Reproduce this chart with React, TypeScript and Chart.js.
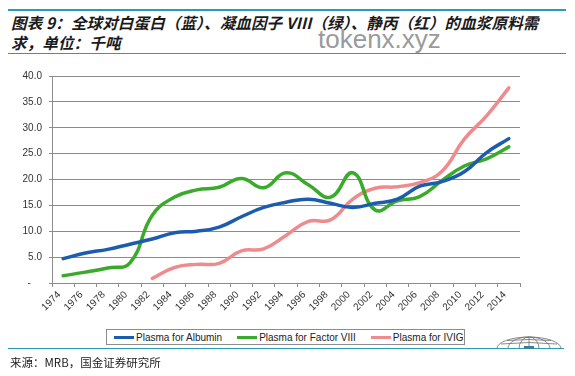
import React, { useEffect, useRef } from "react";
import { Chart, registerables } from "chart.js";

Chart.register(...registerables);

// ---------- data ----------
const years: string[] = [
  "1974", "1976", "1978", "1980", "1982", "1984", "1986", "1988", "1990", "1992", "1994",
  "1996", "1998", "2000", "2002", "2004", "2006", "2008", "2010", "2012", "2014",
];
const albumin: number[] = [
  4.7, 5.8, 6.5, 7.5, 8.5, 9.7, 10.0, 10.8, 12.8, 14.6, 15.6,
  16.2, 15.4, 14.6, 15.4, 16.2, 18.7, 19.6, 21.5, 25.2, 27.9,
];
const factorVIII: number[] = [
  1.4, 2.1, 2.9, 3.9, 13.1, 16.6, 18.0, 18.5, 20.2, 18.4, 21.3,
  19.0, 16.6, 21.3, 14.1, 15.9, 16.7, 19.8, 22.6, 24.0, 26.3,
];
const ivig: (number | null)[] = [
  null, null, null, null, 0.9, 3.0, 3.6, 3.8, 6.2, 6.6, 9.2,
  11.9, 12.2, 16.2, 18.3, 18.6, 19.4, 21.6, 27.8, 32.3, 37.7,
];
const seriesNames: string[] = ["Plasma for Albumin", "Plasma for Factor VIII", "Plasma for IVIG"];
const seriesColors: string[] = ["#1c5cae", "#3aaa2b", "#ef8b8d"];
const yMin = 0;
const yMax = 40;
const yStep = 5;

const titleLine1 = "图表 9：全球对白蛋白（蓝）、凝血因子 VIII（绿）、静丙（红）的血浆原料需";
const titleLine2 = "求，单位：千吨";
const sourceText = "来源：MRB，国金证券研究所";
const watermark = "tokenx.xyz";

const GRID = "#8c8c8c";
const TEAL = "#2b9bb4";

export default function App() {
  const canvasRef = useRef<HTMLCanvasElement | null>(null);

  useEffect(() => {
    document.body.style.margin = "0";
    const canvas = canvasRef.current;
    if (!canvas) return;
    const seriesData = [albumin, factorVIII, ivig];
    const chart = new Chart(canvas, {
      type: "line",
      data: {
        labels: years,
        datasets: seriesData.map((d, i) => ({
          label: seriesNames[i],
          data: d,
          borderColor: seriesColors[i],
          backgroundColor: seriesColors[i],
          borderWidth: 3.5,
          pointRadius: 0,
          tension: 0.45,
          borderCapStyle: "round" as const,
          borderJoinStyle: "round" as const,
          fill: false,
        })),
      },
      options: {
        animation: false,
        responsive: false,
        maintainAspectRatio: false,
        layout: { padding: { left: 0, right: 55, top: 76, bottom: 0 } },
        plugins: {
          legend: { display: false },
          tooltip: { enabled: false },
          title: { display: false },
        },
        scales: {
          x: {
            type: "category",
            offset: true,
            grid: {
              display: true,
              offset: true,
              drawOnChartArea: false,
              drawTicks: true,
              tickLength: 4,
              color: GRID,
            },
            border: { display: true, color: GRID, width: 1 },
            ticks: {
              autoSkip: false,
              minRotation: 45,
              maxRotation: 45,
              padding: 2,
              labelOffset: -4,
              color: "#333",
              font: { family: "'Liberation Sans', Arial, sans-serif", size: 10 },
            },
            afterFit: (scale: any) => {
              scale.height = 93;
            },
          },
          y: {
            min: yMin,
            max: yMax,
            ticks: {
              stepSize: yStep,
              padding: 7,
              color: "#333",
              font: { family: "'Liberation Sans', Arial, sans-serif", size: 10 },
              callback: (v: any) => (Number(v) === 0 ? "-    " : Number(v).toFixed(1)),
            },
            grid: {
              color: GRID,
              lineWidth: 1,
              tickLength: 3,
              drawTicks: true,
            },
            border: { display: true, color: GRID, width: 1 },
            afterFit: (scale: any) => {
              scale.width = 52;
            },
          },
        },
      },
    });
    return () => chart.destroy();
  }, []);

  const cjk = "'Noto Sans CJK SC', 'Noto Sans', sans-serif";

  return (
    <div
      style={{
        position: "fixed",
        left: 0,
        top: 0,
        width: 575,
        height: 376,
        background: "#fff",
        overflow: "hidden",
      }}
    >
      {/* header lines */}
      <div style={{ position: "absolute", left: 8, top: 9, width: 558, height: 2, background: TEAL }} />
      <div style={{ position: "absolute", left: 8, top: 53, width: 558, height: 1, background: TEAL }} />
      {/* title */}
      <div
        style={{
          position: "absolute",
          left: 11,
          top: 12,
          fontFamily: cjk,
          fontSize: 15.5,
          fontWeight: 700,
          fontStyle: "italic",
          color: "#1a1a1a",
          lineHeight: "20px",
          letterSpacing: "0.15px",
          whiteSpace: "nowrap",
        }}
      >
        <div>{titleLine1}</div>
        <div>{titleLine2}</div>
      </div>
      {/* watermark */}
      <div
        style={{
          position: "absolute",
          left: 318,
          top: 24,
          fontFamily: "'Liberation Sans', Arial, sans-serif",
          fontSize: 26,
          lineHeight: "30px",
          color: "#9a9a9a",
          whiteSpace: "nowrap",
        }}
      >
        {watermark}
      </div>
      <canvas
        ref={canvasRef}
        width={575}
        height={376}
        style={{ position: "absolute", left: 0, top: 0, width: 575, height: 376 }}
      />
      {/* legend */}
      <div
        style={{
          position: "absolute",
          left: 106,
          top: 329,
          width: 359,
          height: 16,
          boxSizing: "border-box",
          border: "1px solid #8c8c8c",
          background: "#fff",
          display: "flex",
          alignItems: "center",
          paddingLeft: 7,
          fontFamily: "'Liberation Sans', Arial, sans-serif",
          fontSize: 10,
          color: "#222",
          whiteSpace: "nowrap",
        }}
      >
        {seriesNames.map((n, i) => (
          <div key={n} style={{ display: "flex", alignItems: "center", marginRight: 15 }}>
            <span
              style={{
                display: "inline-block",
                width: 20,
                height: 3,
                background: seriesColors[i],
                marginRight: 2,
              }}
            />
            <span>{n}</span>
          </div>
        ))}
      </div>
      {/* footer line and globe */}
      <div style={{ position: "absolute", left: 8, top: 348, width: 556, height: 1, background: TEAL }} />
      <svg
        width={66}
        height={13}
        style={{ position: "absolute", left: 496, top: 336 }}
        viewBox="0 0 66 13"
      >
        <g fill="none" stroke="#6f6f6f" strokeWidth={0.8}>
          <path d="M1,12.5 A32,11.5 0 0 1 65,12.5" />
          <path d="M12,12.5 A21,11.5 0 0 1 54,12.5" />
          <path d="M23,12.5 A10,11.5 0 0 1 43,12.5" />
          <path d="M33,1 L33,12.5" />
          <path d="M5,8 Q33,5 61,8" />
          <path d="M11,4.5 Q33,2.5 55,4.5" />
        </g>
        <rect x={28} y={10} width={10} height={3} fill="#3a7f9a" />
      </svg>
      {/* source */}
      <div
        style={{
          position: "absolute",
          left: 10,
          top: 354,
          fontFamily: cjk,
          fontSize: 11.5,
          lineHeight: "16px",
          color: "#222",
          whiteSpace: "nowrap",
        }}
      >
        {sourceText}
      </div>
    </div>
  );
}
